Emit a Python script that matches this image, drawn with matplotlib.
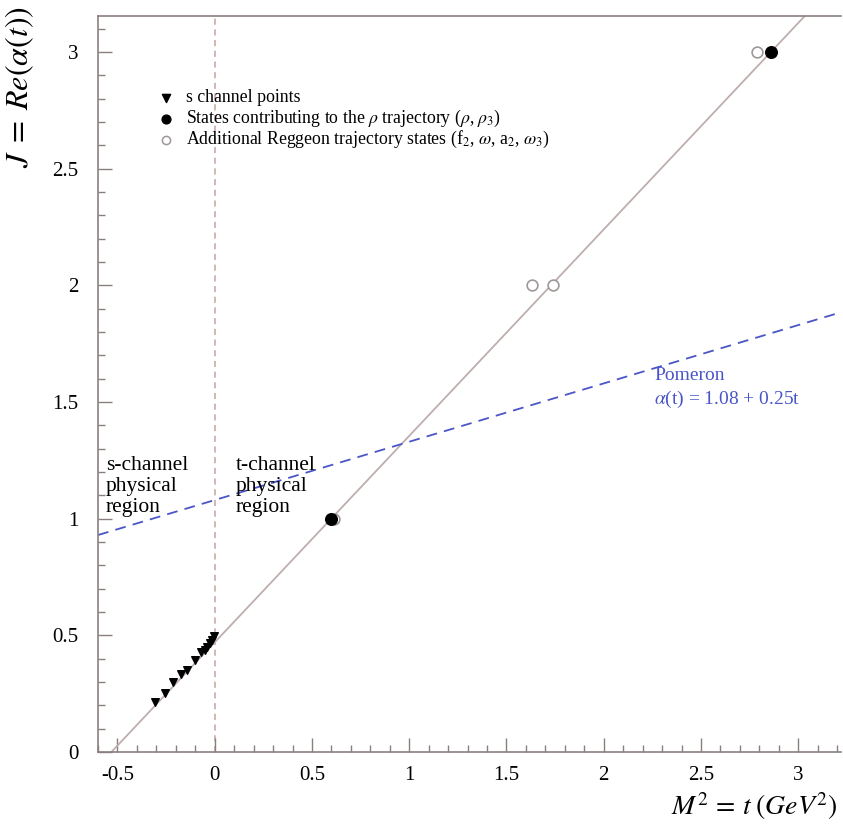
import matplotlib
matplotlib.use("Agg")
import matplotlib.pyplot as plt
from matplotlib.ticker import MultipleLocator

plt.rcParams['font.family'] = ['Liberation Serif', 'DejaVu Serif']
plt.rcParams['mathtext.fontset'] = 'stix'

# s channel points (t, J)
s_t = [-0.308, -0.258, -0.215, -0.172, -0.141, -0.103, -0.069, -0.052, -0.038, -0.024, -0.012, -0.003]
s_J = [0.216, 0.254, 0.302, 0.335, 0.352, 0.395, 0.430, 0.438, 0.452, 0.466, 0.480, 0.498]

# rho trajectory states
rho_t = [0.60, 2.86]
rho_J = [1.0, 3.0]

# other Reggeon states
reg_t = [0.612, 1.63, 1.74, 2.79]
reg_J = [1.0, 2.0, 2.0, 3.0]

# trajectories
rho_a0, rho_slope = 0.47, 0.885
pom_a0, pom_slope = 1.08, 0.25
t_range = [-0.6, 3.22]

line_col = '#bfaeae'
blue = '#4a55c8'

fig = plt.figure(figsize=(8.43, 8.30), dpi=100)
ax = fig.add_axes([98 / 843, 78 / 830, (841 - 98) / 843, 736 / 830])

ax.plot(t_range, [rho_a0 + rho_slope * t for t in t_range], color=line_col, lw=1.3, zorder=2)
ax.plot(t_range, [pom_a0 + pom_slope * t for t in t_range], color=blue, lw=1.3,
        ls=(0, (6, 4)), zorder=2)
ax.axvline(0, color='#c9a2a2', lw=1.1, ls=(0, (4, 3)), zorder=1)

ax.scatter(reg_t, reg_J, s=60, facecolors='white', edgecolors='#a09898', linewidths=1.2, zorder=3)
ax.scatter(rho_t, rho_J, s=70, color='black', zorder=4)
ax.scatter(s_t, s_J, s=30, marker='v', color='black', zorder=4)

ax.set_xlim(t_range)
ax.set_ylim(0, 3.155)
ax.xaxis.set_minor_locator(MultipleLocator(0.1))
ax.yaxis.set_minor_locator(MultipleLocator(0.1))
ax.set_xticks([-0.5, 0, 0.5, 1, 1.5, 2, 2.5, 3])
ax.set_xticklabels(['-0.5', '0', '0.5', '1', '1.5', '2', '2.5', '3'])
ax.set_yticks([0, 0.5, 1, 1.5, 2, 2.5, 3])
ax.set_yticklabels(['0', '0.5', '1', '1.5', '2', '2.5', '3'])
ax.tick_params(which='major', direction='in', length=10, width=1, color='#8a7f7f',
               labelsize=15, top=False, right=False)
ax.tick_params(axis='x', which='major', pad=10)
ax.tick_params(axis='y', which='major', pad=14)
ax.tick_params(which='minor', direction='in', length=5, width=1, color='#8a7f7f',
               top=False, right=False)
for side in ['left', 'bottom', 'top']:
    ax.spines[side].set_color('#8a7f7f')
    ax.spines[side].set_linewidth(1.2)
ax.spines['right'].set_visible(False)

# legend (drawn by hand, ROOT style)
leg_x, leg_tx = -0.25, -0.15
leg_rows = [2.805, 2.715, 2.625]
leg_labels = ['s channel points',
              r'States contributing to the $\rho$ trajectory ($\rho$, $\rho_3$)',
              r'Additional Reggeon trajectory states (f$_2$, $\omega$, a$_2$, $\omega_3$)']
ax.scatter([leg_x], [leg_rows[0]], s=35, marker='v', color='black', zorder=5)
ax.scatter([leg_x], [leg_rows[1]], s=40, color='black', zorder=5)
ax.scatter([leg_x], [leg_rows[2]], s=35, facecolors='white', edgecolors='#a09898', linewidths=1.1, zorder=5)
for y, lab in zip(leg_rows, leg_labels):
    ax.text(leg_tx, y, lab, fontsize=12.8, va='center', ha='left')

ax.text(-0.56, 1.27, 's-channel\nphysical\nregion', fontsize=15.5, va='top', ha='left', linespacing=1.15)
ax.text(0.11, 1.27, 't-channel\nphysical\nregion', fontsize=15.5, va='top', ha='left', linespacing=1.15)
ax.text(2.26, 1.65, 'Pomeron\n' + r'$\alpha$(t) = 1.08 + 0.25t', fontsize=14, color=blue,
        va='top', ha='left', linespacing=1.3)

fig.text(20 / 843, 1 - 6 / 830, r'$J\;=\;Re(\alpha(t))$', rotation=90, fontsize=23,
         ha='center', va='top')
fig.text(838 / 843, 1 - 806 / 830, r'$M^2\,=\,t\;(GeV^2)$', fontsize=20, ha='right', va='center')

fig.savefig('out.png', dpi=100)
